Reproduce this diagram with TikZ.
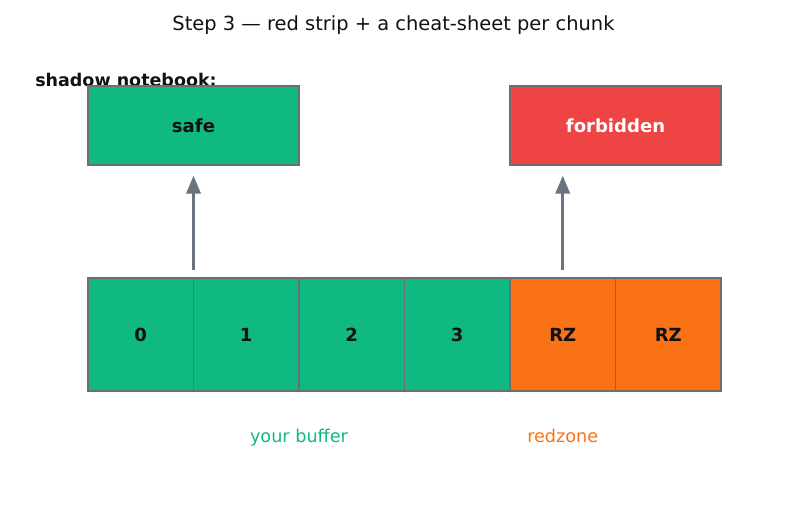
\documentclass[tikz,border=0pt]{standalone}
\usepackage{fontspec}
\setmainfont{DejaVu Sans}
\usepackage{tikz}
\usetikzlibrary{arrows}
\usetikzlibrary{positioning}

\definecolor{bufgreen}{HTML}{10B981}
\definecolor{rzorange}{HTML}{F97316}
\definecolor{badred}{HTML}{EF4444}
\definecolor{edgegray}{HTML}{6B6E73}
\definecolor{arrowgray}{HTML}{6B7280}
\definecolor{inkdark}{HTML}{111111}

\begin{document}
\begin{tikzpicture}[x=0.72pt,y=-0.72pt,node distance=75.96pt,
  cell/.style={outer sep=0pt,minimum width=75.96pt,minimum height=81.36pt,inner sep=0pt,text=inkdark,font=\fontsize{13}{15}\selectfont\bfseries},
  book/.style={draw=edgegray,line width=1.3pt,minimum width=151.92pt,minimum height=56.88pt,inner sep=0pt,font=\fontsize{13}{15}\selectfont\bfseries},
  tag/.style={anchor=base,font=\fontsize{12.7}{15}\selectfont},
  pointer/.style={-triangle 45,draw=arrowgray,line width=2pt}]
\useasboundingbox (0,0) rectangle (787,507);

\node[text=inkdark,font=\fontsize{14}{17}\selectfont] (title) at (393.5,25) {Step 3 — red strip + a cheat-sheet per chunk};
\node[anchor=west,inner sep=0pt,text=inkdark,font=\fontsize{12.6}{15}\selectfont\bfseries] (nb) at (35,80) {shadow notebook:};

% the two notebook entries
\node[book,fill=bufgreen,text=inkdark] (safe) at (193.5,125.5) {safe};
\node[book,fill=badred,text=white] (forbidden) at (615.5,125.5) {forbidden};

% memory strip
\node[cell,fill=bufgreen] (c0) at (140.75,334.5) {0};
\node[cell,fill=bufgreen,right of=c0] (c1) {1};
\node[cell,fill=bufgreen,right of=c1] (c2) {2};
\node[cell,fill=bufgreen,right of=c2] (c3) {3};
\node[cell,fill=rzorange,right of=c3] (c4) {RZ};
\node[cell,fill=rzorange,right of=c4] (c5) {RZ};
\foreach \c in {c0,c1,c2,c3,c4,c5}
  \draw[edgegray,line width=1.4pt] (\c.south west) rectangle (\c.north east);

\node[tag,text=bufgreen] (buf) at (299,442) {your buffer};
\node[tag,text=rzorange] (rz) at (562.75,442) {redzone};

\draw[pointer,shorten <=5.76pt,shorten >=7.2pt](c0.north east)--(c0.north east |- safe.south);
\draw[pointer,shorten <=5.76pt,shorten >=7.2pt](c4.north)--(c4.north |- forbidden.south);
\end{tikzpicture}
\end{document}
